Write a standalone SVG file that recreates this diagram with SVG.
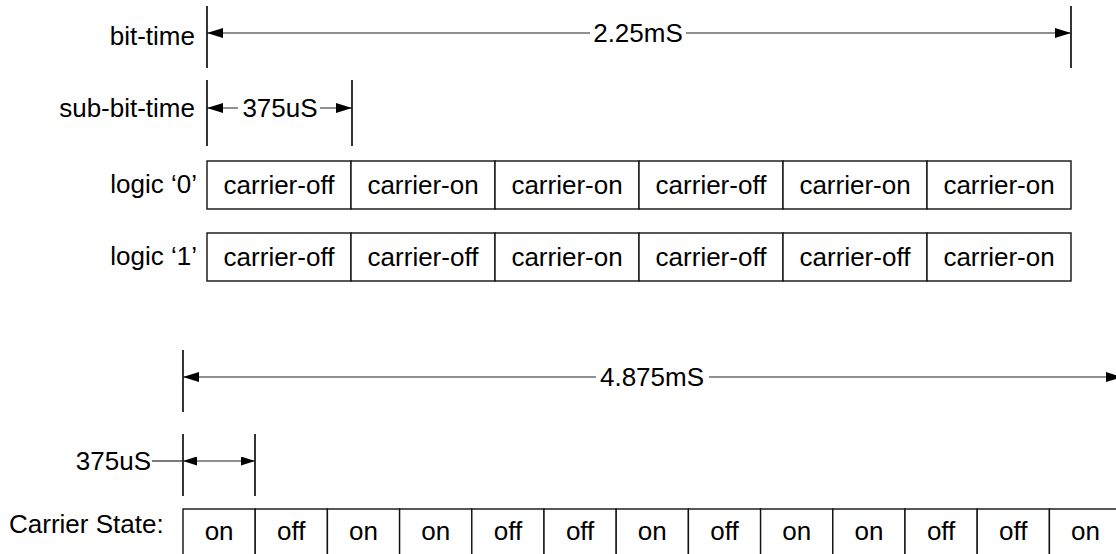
<svg xmlns="http://www.w3.org/2000/svg" width="1116" height="554" viewBox="0 0 1116 554">
  <style>
    text { font-family: "Liberation Sans", Arial, sans-serif; font-size: 26px; fill: #000; }
    .lbl { text-anchor: end; }
    .mid { text-anchor: middle; }
    .tick { stroke: #000; stroke-width: 1.6; fill: none; }
    .dim { stroke: #222; stroke-width: 1.2; fill: none; }
    .cell { fill: #fff; stroke: #111; stroke-width: 1.4; }
    .gap { fill: #fff; }
  </style>
  <defs>
    <marker id="ah" markerUnits="userSpaceOnUse" markerWidth="16" markerHeight="10" refX="16" refY="5" orient="auto-start-reverse">
      <path d="M0,0 L16,5 L0,10 Z" fill="#000"/>
    </marker>
    <marker id="ahs" markerUnits="userSpaceOnUse" markerWidth="14" markerHeight="9" refX="14" refY="4.5" orient="auto-start-reverse">
      <path d="M0,0 L14,4.5 L0,9 Z" fill="#000"/>
    </marker>
  </defs>

  <!-- row labels -->
  <g id="labels">
    <text class="lbl" x="195" y="45">bit-time</text>
    <text class="lbl" x="195" y="117">sub-bit-time</text>
    <text class="lbl" x="197" y="193">logic ‘0’</text>
    <text class="lbl" x="197" y="265">logic ‘1’</text>
    <text x="9" y="533">Carrier State:</text>
  </g>

  <!-- dimension lines -->
  <g id="connectors">
    <!-- bit-time: 2.25mS -->
    <line class="tick" x1="207" y1="6" x2="207" y2="68"/>
    <line class="tick" x1="1071" y1="6" x2="1071" y2="68"/>
    <line class="dim" x1="207" y1="33" x2="1071" y2="33" marker-start="url(#ah)" marker-end="url(#ah)"/>
    <!-- sub-bit-time: 375uS -->
    <line class="tick" x1="207" y1="80" x2="207" y2="146"/>
    <line class="tick" x1="352" y1="80" x2="352" y2="146"/>
    <line class="dim" x1="207" y1="108" x2="352" y2="108" marker-start="url(#ah)" marker-end="url(#ah)"/>
    <!-- carrier sequence: 4.875mS -->
    <line class="tick" x1="183" y1="350" x2="183" y2="412"/>
    <line class="dim" x1="183" y1="377" x2="1122" y2="377" marker-start="url(#ah)" marker-end="url(#ah)"/>
    <!-- one slot: 375uS -->
    <line class="tick" x1="183" y1="434" x2="183" y2="496"/>
    <line class="tick" x1="255" y1="434" x2="255" y2="496"/>
    <line class="dim" x1="183" y1="461" x2="255" y2="461" marker-start="url(#ahs)" marker-end="url(#ahs)"/>
    <line class="dim" x1="152" y1="461" x2="183" y2="461"/>
  </g>

  <!-- dimension values, set over a white gap in the line -->
  <g id="dim-values">
    <rect class="gap" x="590" y="20" width="96" height="26"/>
    <text class="mid" x="638" y="42">2.25mS</text>
    <rect class="gap" x="238" y="95" width="82" height="26"/>
    <text class="mid" x="280" y="117">375uS</text>
    <rect class="gap" x="596" y="364" width="113" height="26"/>
    <text class="mid" x="652" y="386">4.875mS</text>
    <text class="lbl" x="151" y="470">375uS</text>
  </g>

  <!-- logic '0' symbol -->
  <g id="logic0">
    <rect class="cell" x="207" y="161" width="144" height="48"/>
    <rect class="cell" x="351" y="161" width="144" height="48"/>
    <rect class="cell" x="495" y="161" width="144" height="48"/>
    <rect class="cell" x="639" y="161" width="144" height="48"/>
    <rect class="cell" x="783" y="161" width="144" height="48"/>
    <rect class="cell" x="927" y="161" width="144" height="48"/>
    <text class="mid" x="279" y="194">carrier-off</text>
    <text class="mid" x="423" y="194">carrier-on</text>
    <text class="mid" x="567" y="194">carrier-on</text>
    <text class="mid" x="711" y="194">carrier-off</text>
    <text class="mid" x="855" y="194">carrier-on</text>
    <text class="mid" x="999" y="194">carrier-on</text>
  </g>

  <!-- logic '1' symbol -->
  <g id="logic1">
    <rect class="cell" x="207" y="233" width="144" height="48"/>
    <rect class="cell" x="351" y="233" width="144" height="48"/>
    <rect class="cell" x="495" y="233" width="144" height="48"/>
    <rect class="cell" x="639" y="233" width="144" height="48"/>
    <rect class="cell" x="783" y="233" width="144" height="48"/>
    <rect class="cell" x="927" y="233" width="144" height="48"/>
    <text class="mid" x="279" y="266">carrier-off</text>
    <text class="mid" x="423" y="266">carrier-off</text>
    <text class="mid" x="567" y="266">carrier-on</text>
    <text class="mid" x="711" y="266">carrier-off</text>
    <text class="mid" x="855" y="266">carrier-off</text>
    <text class="mid" x="999" y="266">carrier-on</text>
  </g>

  <!-- carrier state sequence -->
  <g id="carrier-state">
    <rect class="cell" x="183" y="509" width="72.2" height="60"/>
    <rect class="cell" x="255.2" y="509" width="72.2" height="60"/>
    <rect class="cell" x="327.4" y="509" width="72.2" height="60"/>
    <rect class="cell" x="399.6" y="509" width="72.2" height="60"/>
    <rect class="cell" x="471.8" y="509" width="72.2" height="60"/>
    <rect class="cell" x="544" y="509" width="72.2" height="60"/>
    <rect class="cell" x="616.2" y="509" width="72.2" height="60"/>
    <rect class="cell" x="688.4" y="509" width="72.2" height="60"/>
    <rect class="cell" x="760.6" y="509" width="72.2" height="60"/>
    <rect class="cell" x="832.8" y="509" width="72.2" height="60"/>
    <rect class="cell" x="905" y="509" width="72.2" height="60"/>
    <rect class="cell" x="977.2" y="509" width="72.2" height="60"/>
    <rect class="cell" x="1049.4" y="509" width="72.2" height="60"/>
    <text class="mid" x="219.1" y="540">on</text>
    <text class="mid" x="291.3" y="540">off</text>
    <text class="mid" x="363.5" y="540">on</text>
    <text class="mid" x="435.7" y="540">on</text>
    <text class="mid" x="507.9" y="540">off</text>
    <text class="mid" x="580.1" y="540">off</text>
    <text class="mid" x="652.3" y="540">on</text>
    <text class="mid" x="724.5" y="540">off</text>
    <text class="mid" x="796.7" y="540">on</text>
    <text class="mid" x="868.9" y="540">on</text>
    <text class="mid" x="941.1" y="540">off</text>
    <text class="mid" x="1013.3" y="540">off</text>
    <text class="mid" x="1085.5" y="540">on</text>
  </g>
</svg>
